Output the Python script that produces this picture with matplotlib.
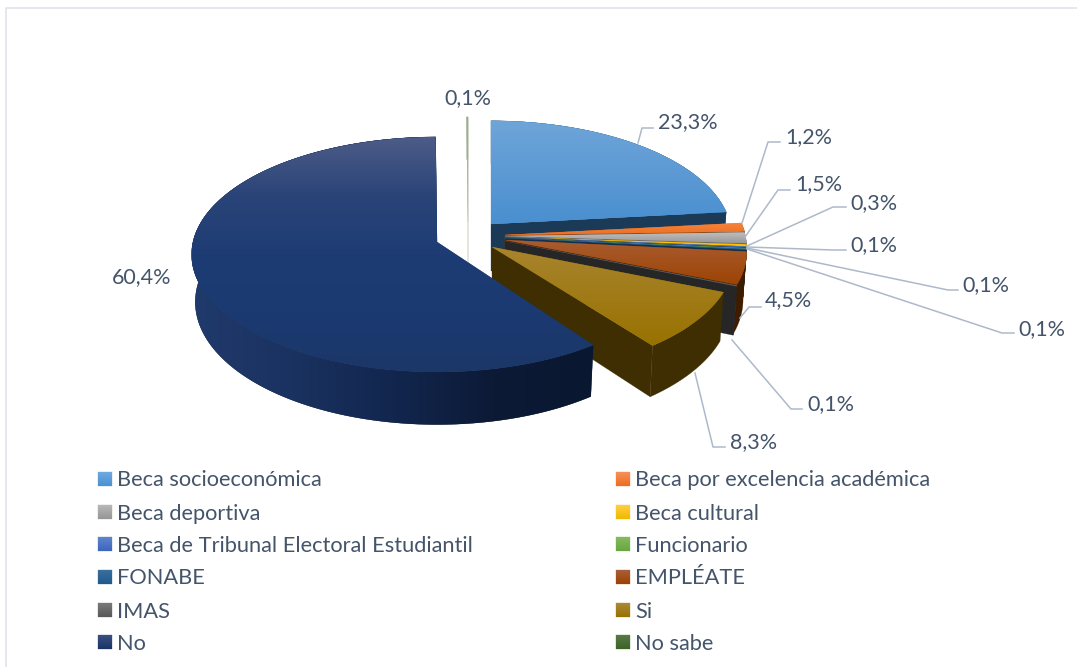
import numpy as np
import matplotlib
matplotlib.use("Agg")
import matplotlib.pyplot as plt
from matplotlib.colors import to_rgb

categories = ["Beca socioeconómica", "Beca por excelencia académica", "Beca deportiva",
              "Beca cultural", "Beca de Tribunal Electoral Estudiantil", "Funcionario",
              "FONABE", "EMPLÉATE", "IMAS", "Si", "No", "No sabe"]
values = [23.3, 1.2, 1.5, 0.3, 0.1, 0.1, 0.1, 4.5, 0.1, 8.3, 60.4, 0.1]
value_labels = ["23,3%", "1,2%", "1,5%", "0,3%", "0,1%", "0,1%", "0,1%", "4,5%", "0,1%", "8,3%", "60,4%", "0,1%"]

# top gradient stops, wall colour
top_colors = [["#6fa5d9", "#4a8fd0"], ["#f58540", "#ed7020"], ["#c0c0c0", "#989898"],
              ["#ffc000"], ["#4472c4"], ["#70ad47"],
              ["#255e91"], ["#a85c30", "#9e4303"], ["#636363"],
              ["#a8842e", "#987200"], ["#4d5c88", "#2a4478", "#1e3c74", "#1c3a72", "#1b3768"], ["#9db08e"]]
wall_colors = ["#1b3a57", "#7a3a10", "#555555", "#7f6000", "#223962", "#38572a",
               "#133050", "#3d1c00", "#262626", "#3e2e02", "#10254a", "#9db08e"]
no_rim_colors = ["#203a6c", "#1a3260", "#12264e", "#0c1a36", "#0a1730"]
legend_colors = [("#6fa9e0", "#4a90d4"), ("#f5915a", "#ed6d1f"), ("#b8b8b8", "#969696"),
                 ("#ffd040", "#f0b800"), ("#5f85d0", "#3c66bb"), ("#85bb60", "#69a63f"),
                 ("#3a6f9f", "#1f5a8c"), ("#a8603a", "#9e4000"), ("#7a7a7a", "#585858"),
                 ("#aa8a3a", "#987000"), ("#3c4f80", "#1a3468"), ("#5a7a48", "#3c6325")]

# apex of each exploded slice (pixels) and radius scale
apex = [(491, 224), (505, 235), (505, 236), (505, 237), (505, 237), (505, 238),
        (505, 238), (505, 240), (505, 241), (492, 247), (437, 242), (468, 222)]
radius = [0.98, 0.985, 0.985, 0.985, 0.985, 0.985, 0.985, 0.985, 0.985, 0.985, 1, 1]
start_trim = np.radians([0, 0, 0, 0, 0, 0, 0, 0, 0, 0, 2.0, 0])

# leader lines: start, elbow, end, then label position
leaders = [((638, 143), (642, 128), (653, 128), (658, 122)),
           ((742, 223), (768, 142), (780, 142), (785, 137)),
           ((745, 237), (778, 190), (790, 190), (795, 184)),
           ((747, 246), (833, 207), (846, 207), (850, 203)),
           ((747, 247), (833, 250), (846, 250), (850, 245)),
           ((747, 248), (948, 290), (958, 290), (962, 285)),
           ((747, 249), (1002, 333), (1014, 333), (1018, 329)),
           ((740, 318), (749, 307), (761, 307), (765, 300)),
           ((732, 340), (791, 409), (802, 409), (807, 404)),
           ((695, 373), (713, 447), (725, 447), (730, 442)),
           None, None]
free_labels = {10: (112, 277), 11: (444, 98)}

text_color = "#44546a"
line_color = "#adb9ca"
font = "Lato"

B, A, K, D = 244.0, 116.2, 0.106, 47.0

fig = plt.figure(figsize=(10.77, 6.67), dpi=100)
ax = fig.add_axes([0, 0, 1, 1])
ax.axis("off")
z = [10]


def project(theta, r, i, depth):
    u, v = r * np.sin(theta), r * np.cos(theta)
    w = 1 + K * v
    return apex[i][0] + (1 - 0.015 * depth) * B * u / w, apex[i][1] - A * v / w + depth * D / w


def solid(poly, color):
    z[0] += 1
    ax.fill(poly[:, 0], poly[:, 1], facecolor=color, edgecolor=color, lw=0.2, zorder=z[0])


def gradient(poly, stops, horizontal=False):
    solid(poly, stops[-1])
    n = 128
    pos = np.linspace(0, 1, len(stops))
    rgb = np.array([to_rgb(c) for c in stops])
    t = np.linspace(0, 1, n)
    arr = np.stack([np.interp(t, pos, rgb[:, c]) for c in range(3)], axis=1)
    arr = arr[None, :, :] if horizontal else arr[:, None, :]
    z[0] += 1
    im = ax.imshow(arr, extent=(poly[:, 0].min(), poly[:, 0].max(), poly[:, 1].max(), poly[:, 1].min()),
                   aspect="auto", interpolation="bilinear", zorder=z[0])
    patch = plt.Polygon(poly, closed=True, transform=ax.transData, fill=False, lw=0)
    ax.add_patch(patch)
    im.set_clip_path(patch)


fracs = np.array(values) / sum(values)
ends = np.cumsum(fracs) * 2 * np.pi
starts = ends - fracs * 2 * np.pi + start_trim

# back sliver first, then clockwise, big slice in front
for i in [11] + list(range(11)):
    t = np.linspace(starts[i], ends[i], max(4, int(values[i] * 6)))
    r = radius[i]
    arc_top = np.array([project(a, r, i, 0) for a in t])
    arc_low = np.array([project(a, r, i, 1) for a in t])
    centre_top = np.array([project(0, 0, i, 0)])
    centre_low = np.array([project(0, 0, i, 1)])

    face = np.vstack([centre_top, arc_top[-1:], arc_low[-1:], centre_low])
    solid(face, wall_colors[i])
    rim = np.vstack([arc_top, arc_low[::-1]])
    if categories[i] == "No":
        gradient(rim, no_rim_colors, horizontal=True)
    else:
        solid(rim, wall_colors[i])
    top = np.vstack([centre_top, arc_top])
    if len(top_colors[i]) == 1:
        solid(top, top_colors[i][0])
    else:
        gradient(top, top_colors[i])

# leader lines and data labels
for i, lab in enumerate(value_labels):
    if leaders[i] is not None:
        p0, p1, p2, pos = leaders[i]
        ax.plot([p0[0], p1[0], p2[0]], [p0[1], p1[1], p2[1]], color=line_color, lw=1.1, zorder=500)
    else:
        pos = free_labels[i]
    ax.text(pos[0], pos[1], lab, color=text_color, fontsize=15.5, family=font,
            ha="left", va="center", zorder=600)

# legend, two columns filled row by row
legend_rows = [479, 512, 544, 577, 610, 642]
for i, name in enumerate(categories):
    y = legend_rows[i // 2]
    x = 98 if i % 2 == 0 else 616
    sq = np.array([(x, y - 7), (x + 14, y - 7), (x + 14, y + 7), (x, y + 7)])
    gradient(sq, legend_colors[i])
    ax.text(x + 19, y + 1.5, name, color=text_color, fontsize=15.7, family=font, ha="left", va="center", zorder=600)

# chart frame
ax.plot([6, 6, 1077], [667, 8, 8], color="#dfe3ea", lw=1.2, zorder=5)

ax.set_xlim(0, 1077)
ax.set_ylim(667, 0)
fig.savefig("out.png", dpi=100)
